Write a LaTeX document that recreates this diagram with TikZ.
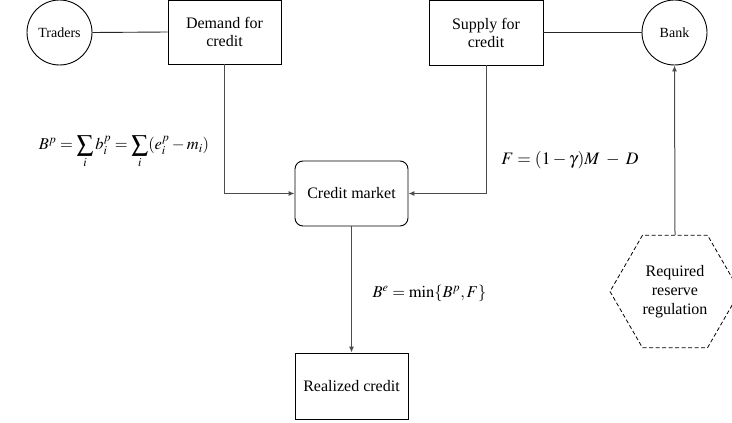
\documentclass[tikz,border=0pt]{standalone}
\usepackage{mathptmx}
\usepackage[no-math]{fontspec}
\setmainfont{Liberation Serif}
\usetikzlibrary{shapes.geometric,arrows.meta}
\tikzset{
  boxnode/.style={draw=black,line width=0.9pt,rectangle,inner sep=0pt,align=center,font=\fontsize{16}{18}\selectfont},
  circnode/.style={draw=black,line width=0.9pt,circle,inner sep=0pt,minimum size=65,font=\fontsize{14}{16}\selectfont},
  hexnode/.style={draw=black,line width=0.8pt,dash pattern=on 4pt off 2.5pt,regular polygon,regular polygon sides=6,minimum size=130,inner sep=0pt,align=center,font=\fontsize{16}{19}\selectfont},
  plainline/.style={draw=black!85,line width=0.9pt},
  conn/.style={draw=black!70,line width=1pt,-{Latex[length=6pt,width=5pt]}},
  lbl/.style={inner sep=0pt,font=\fontsize{17.5}{20}\selectfont},
  lblsmall/.style={inner sep=0pt,font=\fontsize{16.5}{19}\selectfont}
}
\begin{document}
\begin{tikzpicture}[x=1pt,y=-1pt]
\useasboundingbox (0,0) rectangle (732,423);
\node[circnode] (traders) at (59.5,32.5) {Traders};
\node[boxnode,minimum width=113,minimum height=64] (demand) at (224.5,32) {Demand for\\credit};
\node[boxnode,minimum width=114,minimum height=65] (supply) at (486,32.5) {Supply for\\credit};
\node[circnode] (bank) at (674.5,32.5) {Bank};
\node[boxnode,rounded corners=8pt,minimum width=113,minimum height=65] (market) at (351.5,193.5) {Credit market};
\node[boxnode,minimum width=113,minimum height=66] (realized) at (351.5,386) {Realized credit};
\node[hexnode] (reserve) at (675,291.5) {Required\\reserve\\regulation};

\node[lblsmall] (lblBp) at (124,152) {$\displaystyle B^{p}=\sum_{i} b_{i}^{p}=\sum_{i}(e_{i}^{p}-m_{i})$};
\node[lbl] (lblF) at (570,160) {$F=(1-\gamma)M\;-\;D$};
\node[lblsmall] (lblBe) at (429.5,293) {$B^{e}=\min\{B^{p},F\}$};

\draw[plainline] (traders.east) -- (demand.west);
\draw[plainline] (supply.east) -- (bank.west);
\draw[conn] (demand.south) |- (market.west);
\draw[conn] (supply.south) |- (market.east);
\draw[conn] (market.south) -- (realized.north);
\draw[conn] (reserve.north) -- (bank.south);
\end{tikzpicture}
\end{document}
